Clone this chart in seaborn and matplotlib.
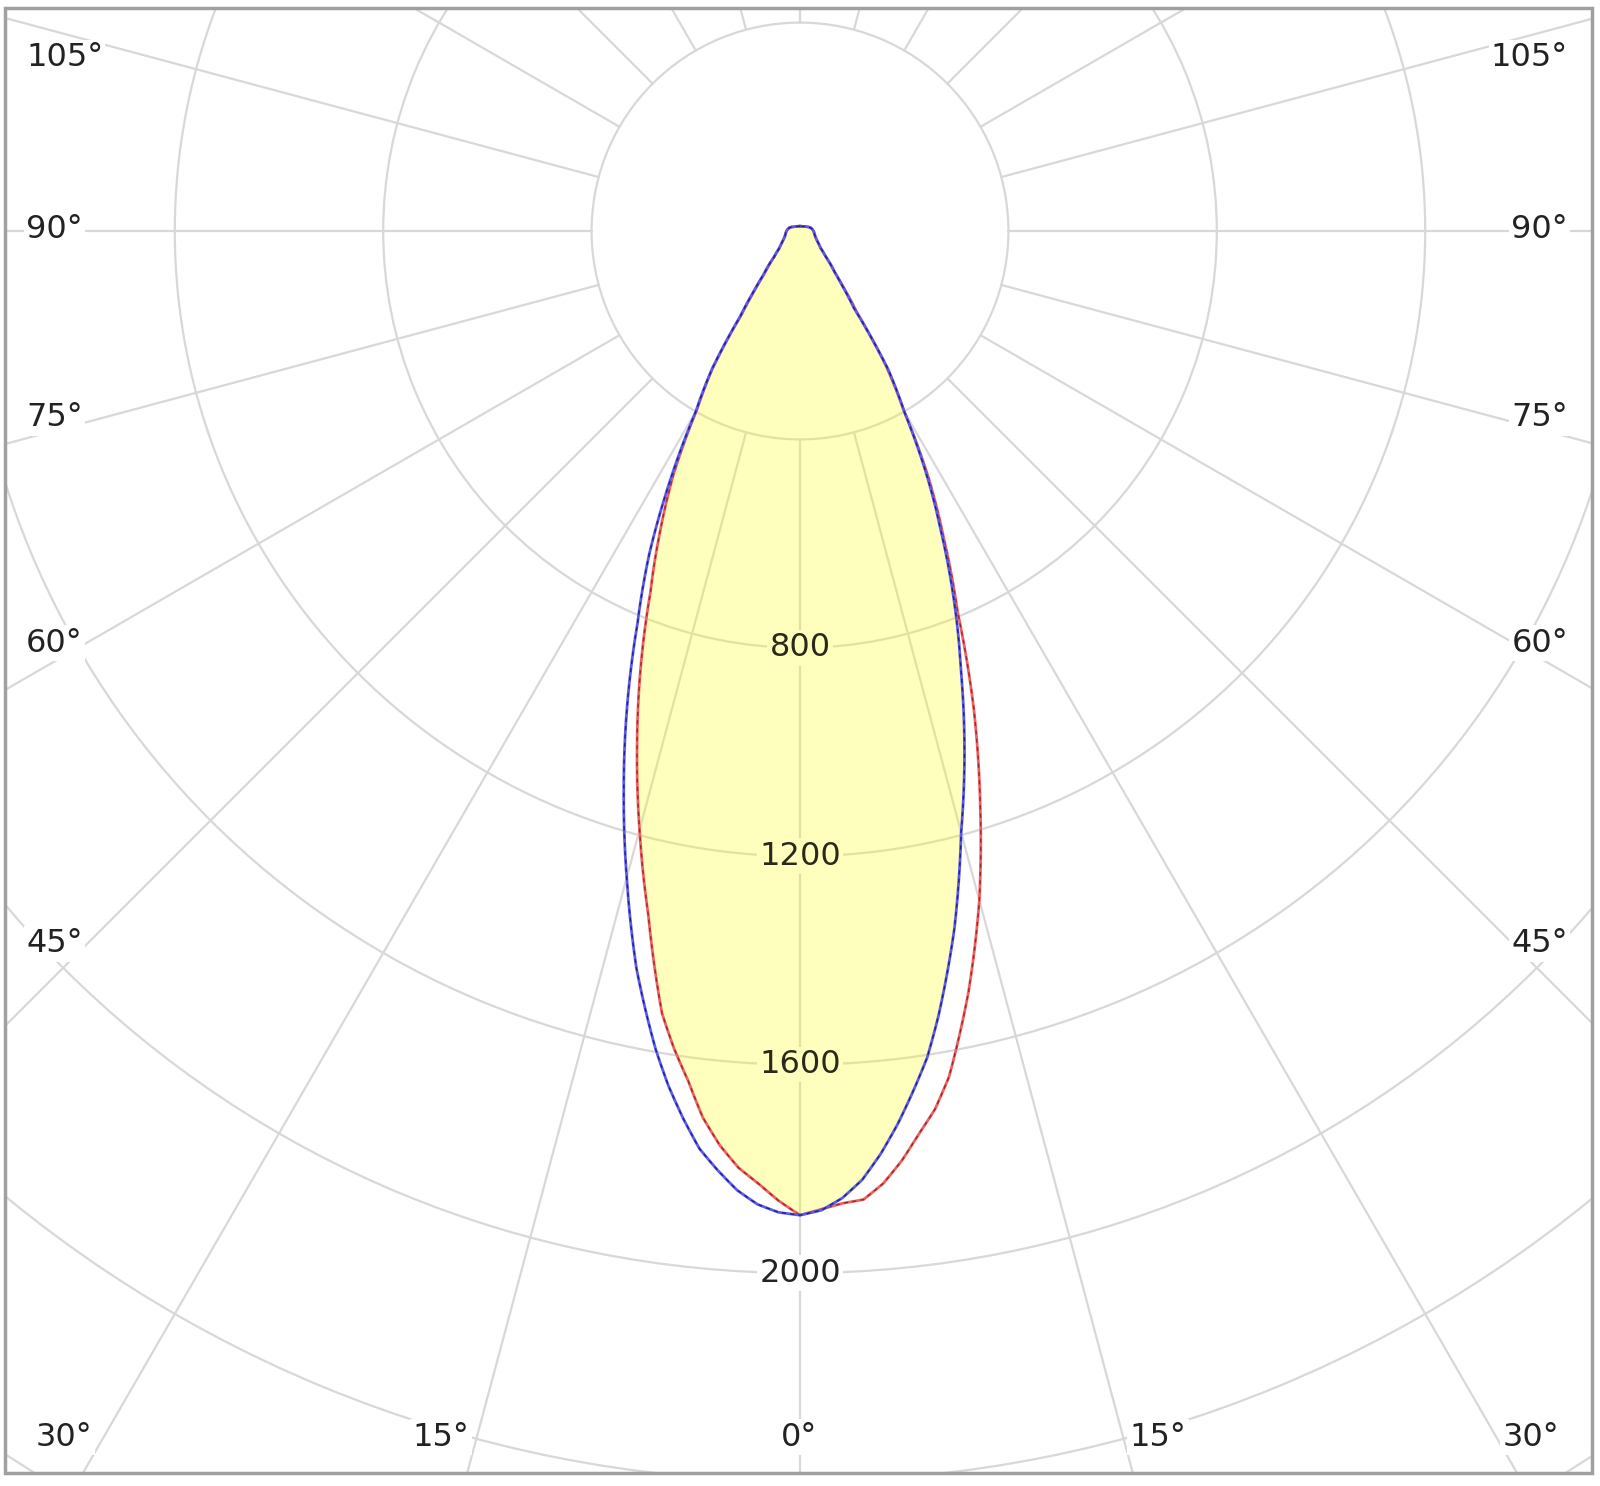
import numpy as np
import matplotlib
matplotlib.use("Agg")
import matplotlib.pyplot as plt
from matplotlib.patches import Rectangle
import seaborn as sns

# gamma angles in degrees, read for each half plane
angles = [0, 1.25, 2.5, 3.75, 5, 6.25, 7.5, 8.75, 10,
          12.5, 15, 17.5, 20, 22.5, 25, 27.5, 30, 32.5, 35, 37.5, 40,
          45, 50, 55, 60, 65, 70, 75, 80, 85, 90, 105, 120, 135, 150, 165, 180]

# luminous intensity (cd), blue plane
blue_left = [1889, 1884, 1870, 1845, 1810, 1772, 1718, 1660, 1595,
             1450, 1285, 1125, 970, 815, 685, 540, 400, 315, 200, 145, 108,
             70, 52, 44, 38, 34, 31, 29, 28, 27, 26, 22, 16, 12, 10, 9.5, 9.3]
blue_right = [1889, 1880, 1858, 1825, 1778, 1724, 1665, 1605, 1530,
              1370, 1195, 1050, 905, 775, 645, 525, 400, 315, 180, 135, 104,
              70, 52, 44, 38, 34, 31, 29, 28, 27, 26, 22, 16, 12, 10, 9.5, 9.3]

# luminous intensity (cd), red plane
red_left = [1889, 1862, 1830, 1802, 1762, 1712, 1645, 1588, 1525,
            1345, 1190, 1040, 895, 750, 635, 525, 395, 312, 195, 140, 104,
            70, 52, 44, 38, 34, 31, 29, 28, 27, 26, 22, 16, 12, 10, 9.5, 9.3]
red_right = [1889, 1878, 1868, 1863, 1835, 1795, 1748, 1705, 1648,
             1495, 1330, 1150, 975, 790, 655, 535, 400, 308, 190, 140, 104,
             70, 52, 44, 38, 34, 31, 29, 28, 27, 26, 22, 16, 12, 10, 9.5, 9.3]

ring_values = [400, 800, 1200, 1600, 2000, 2400, 2800]
ring_labels = [800, 1200, 1600, 2000]
spoke_angles = list(range(0, 360, 15))

# angle labels: text, x px, y px, alignment
angle_labels = [
    ("105°", 26, 58, "left"), ("90°", 26, 230, "left"), ("75°", 26, 418, "left"),
    ("60°", 26, 643, "left"), ("45°", 26, 944, "left"),
    ("105°", 1568, 58, "right"), ("90°", 1568, 230, "right"), ("75°", 1568, 418, "right"),
    ("60°", 1568, 643, "right"), ("45°", 1568, 944, "right"),
    ("30°", 64, 1437, "center"), ("15°", 441, 1437, "center"), ("0°", 799, 1437, "center"),
    ("15°", 1158, 1437, "center"), ("30°", 1531, 1437, "center"),
]

sns.set_theme(style="white")
plt.rcParams["font.family"] = ["DejaVu Sans"]

W, H = 1600, 1486
fig = plt.figure(figsize=(W / 100, H / 100), dpi=100)
fig.patch.set_facecolor("white")

# polar axes bigger than the figure, centre at (800, 231) px, 0.521 px per cd
rmax = 3000
scale = 0.521
cx, cy = 800, 231
rad_px = rmax * scale
ax = fig.add_axes([(cx - rad_px) / W, 1 - (cy + rad_px) / H, 2 * rad_px / W, 2 * rad_px / H],
                  projection="polar")
ax.set_theta_zero_location("S")
ax.set_theta_direction(1)
ax.set_rlim(0, rmax)
ax.spines["polar"].set_visible(False)
ax.set_xticks([])
ax.set_yticks(ring_values)
ax.set_yticklabels([])
ax.set_axisbelow(True)
grid_c = "#d8d8d8"
ax.yaxis.grid(True, color=grid_c, linewidth=1.6)
ax.xaxis.grid(False)

for a in spoke_angles:
    ax.plot([np.deg2rad(a)] * 2, [400, rmax], color=grid_c, lw=1.6, zorder=0.6)

ang = np.array(angles)
theta = np.deg2rad(np.concatenate([-ang[::-1], ang[1:]]))


def full(left, right):
    return np.concatenate([np.array(left)[::-1], np.array(right)[1:]])


blue_r = full(blue_left, blue_right)
red_r = full(red_left, red_right)
fill_r = np.minimum(blue_r, red_r)

polys = ax.fill(theta, fill_r, color="#ffff00", alpha=0.26, lw=0, zorder=3)

# intensity labels along the 0 degree line
for v in ring_labels:
    inside = v < min(blue_left[0], red_left[0])
    ax.text(0, v, str(v), ha="center", va="center", fontsize=23,
            color="#2a2a1c" if inside else "#222222", zorder=3.5,
            bbox=dict(facecolor="#ffffbd" if inside else "white", edgecolor="none", pad=1.5))

n_grid = len(ax.lines)
sns.lineplot(x=theta, y=red_r, sort=False, estimator=None, color="#f06060", linewidth=2.0, ax=ax, zorder=4)
ax.plot(theta, red_r, color="#9a2a2a", lw=1.0, ls=(0, (3, 3)), zorder=4.1)
sns.lineplot(x=theta, y=blue_r, sort=False, estimator=None, color="#5a5af0", linewidth=2.0, ax=ax, zorder=5)
ax.plot(theta, blue_r, color="#22227a", lw=1.0, ls=(0, (3, 3)), zorder=5.1)
ax.set_xlabel("")
ax.set_ylabel("")

# let the polar transform draw each segment as a curve, as polar diagrams do
for ln in ax.lines[n_grid:]:
    ln.get_path()._interpolation_steps = 12
for p in polys:
    p.get_path()._interpolation_steps = 12

# white margins and grey frame
fl, fr, ft, fb = 5, 1592, 8, 1473
for rx, ry, rw, rh in [(0, 0, fl, H), (fr, 0, W - fr, H), (0, 0, W, ft), (0, fb, W, H - fb)]:
    fig.add_artist(Rectangle((rx / W, 1 - (ry + rh) / H), rw / W, rh / H, transform=fig.transFigure,
                             facecolor="white", edgecolor="none", zorder=10))
fig.add_artist(Rectangle((fl / W, 1 - fb / H), (fr - fl) / W, (fb - ft) / H, transform=fig.transFigure,
                         fill=False, edgecolor="#a0a0a0", lw=2.5, zorder=11))

for txt, x, y, ha in angle_labels:
    fig.text(x / W, 1 - y / H, txt, ha=ha, va="center", fontsize=23, color="#222222", zorder=12,
             bbox=dict(facecolor="white", edgecolor="none", pad=1.5))

fig.savefig("out.png", dpi=100)
